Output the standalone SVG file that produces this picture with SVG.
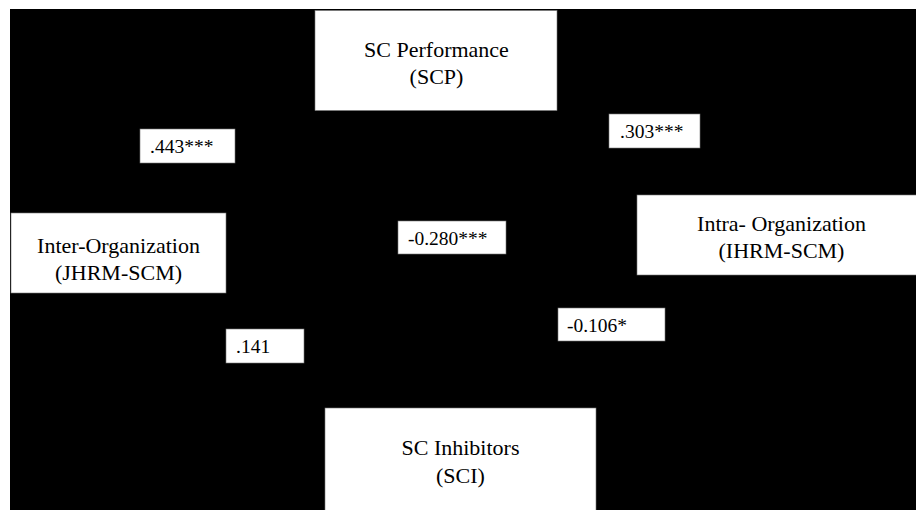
<svg xmlns="http://www.w3.org/2000/svg" width="916" height="510" viewBox="0 0 916 510">
<style>
.node{fill:#fff;stroke:#777;stroke-width:0.6}
.lbl{fill:#fff;stroke:#777;stroke-width:0.6}
.nt{font-size:22px;fill:#000;text-anchor:middle}
.lt{font-size:19.5px;fill:#000}
.conn{fill:none;stroke:#000;stroke-width:1.5}
</style>
<defs>
<marker id="arr" viewBox="0 0 10 10" refX="10" refY="5" markerWidth="7" markerHeight="7" orient="auto"><path d="M0,0 L10,5 L0,10 z" fill="#000"/></marker>
</defs>
<rect x="0" y="0" width="916" height="510" fill="#fff"/>
<rect x="10" y="9" width="906" height="501" fill="#000"/>
<g id="connectors">
<line class="conn" x1="125" y1="213" x2="315" y2="80" marker-end="url(#arr)"/>
<line class="conn" x1="776" y1="195" x2="557" y2="80" marker-end="url(#arr)"/>
<line class="conn" x1="436" y1="408" x2="436" y2="110" marker-end="url(#arr)"/>
<line class="conn" x1="125" y1="293" x2="325" y2="459" marker-end="url(#arr)"/>
<line class="conn" x1="776" y1="275" x2="596" y2="440" marker-end="url(#arr)"/>
</g>
<g font-family="Liberation Serif, DejaVu Serif, serif">
<g id="scp">
<rect class="node" x="315" y="10.5" width="242" height="100"/>
<text class="nt" x="436.5" y="57">SC Performance</text>
<text class="nt" x="436.5" y="84">(SCP)</text>
</g>
<g id="inter">
<rect class="node" x="11" y="213" width="215" height="80"/>
<text class="nt" x="118.5" y="253">Inter-Organization</text>
<text class="nt" x="118.5" y="280">(JHRM-SCM)</text>
</g>
<g id="intra">
<rect class="node" x="637" y="195" width="282" height="80"/>
<text class="nt" x="781.5" y="231">Intra- Organization</text>
<text class="nt" x="781.5" y="258">(IHRM-SCM)</text>
</g>
<g id="sci">
<rect class="node" x="325" y="408" width="271" height="105"/>
<text class="nt" x="460.5" y="455">SC Inhibitors</text>
<text class="nt" x="460.5" y="483">(SCI)</text>
</g>
<g id="label-443">
<rect class="lbl" x="140" y="129" width="95" height="34"/>
<text class="lt" x="150" y="153">.443***</text>
</g>
<g id="label-303">
<rect class="lbl" x="609" y="114" width="91" height="34"/>
<text class="lt" x="620" y="138">.303***</text>
</g>
<g id="label-280">
<rect class="lbl" x="398" y="221" width="108" height="33"/>
<text class="lt" x="408" y="245">-0.280***</text>
</g>
<g id="label-141">
<rect class="lbl" x="226" y="329" width="78" height="34"/>
<text class="lt" x="236" y="353">.141</text>
</g>
<g id="label-106">
<rect class="lbl" x="558" y="308" width="107" height="33"/>
<text class="lt" x="567" y="332">-0.106*</text>
</g>
</g>
</svg>
